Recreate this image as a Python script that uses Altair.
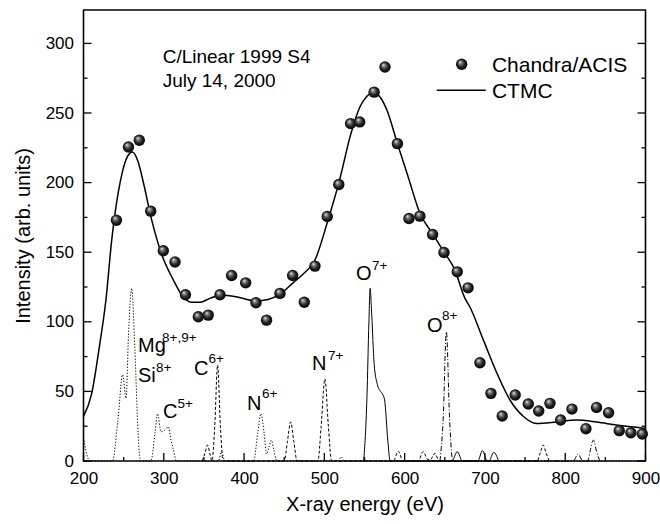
import altair as alt
import pandas as pd

FONT = "Liberation Sans"

# Chandra/ACIS measured points
obs_x = [241, 256, 269.5, 283.7, 299.4, 314, 327, 343, 355.4, 370, 384.5, 402, 414.8, 428, 444.7,
         460.5, 475, 488.3, 503.6, 518, 532.7, 544, 562, 575.5, 591, 605.4, 619, 634.8, 649, 665.5,
         679, 693.8, 707.5, 721.5, 737.7, 754, 767, 781, 794.3, 808.4, 825.8, 839, 854, 867.3, 881.8, 896]
obs_y = [173, 225.6, 230.4, 179.5, 151, 143, 119.4, 103.6, 104.8, 119.4, 133.3, 128, 113.7, 101.2, 120.4,
         133.3, 114, 140, 175.7, 198.6, 242.4, 243.6, 265, 283, 228, 174.2, 175.9, 162.7, 149.8, 135.9,
         124.4, 70.6, 48.6, 32.3, 47.4, 40.9, 35.9, 41.4, 29.4, 37.3, 23.2, 38.5, 34.7, 21.8, 20.3, 19.4]

# CTMC model curve
ctmc_x = [200, 210, 220, 228, 235, 247, 255, 261, 268, 275, 285, 297, 312, 324, 335, 345, 358, 370, 390,
          415, 430, 445, 461, 475, 488, 504, 519, 533, 544, 553, 562, 570, 578, 591, 605, 619, 634, 648,
          662, 675, 681, 698, 715, 731, 748, 764, 789, 814, 839, 864, 900]
ctmc_y = [32, 48, 83, 116, 158, 204, 219, 222, 215, 199, 173, 149, 130, 118, 114, 114, 117, 119, 118,
          115, 116, 120, 128, 135, 144, 172, 202, 235, 254, 262, 265, 261, 252, 228, 203, 178, 164, 151,
          138, 117, 111, 87, 63, 44, 32, 27, 28, 29.4, 28, 25.8, 23.4]

# Individual line spectra (four line styles)
dotted_x = [200, 204, 208, 236, 243, 248.8, 253, 256, 260, 264, 268, 271, 284, 289, 292.4, 296.5, 301,
            305.6, 309, 312, 316, 368, 372, 376, 412, 417, 421, 425, 428, 431, 434, 437, 441, 517, 521, 525, 900]
dotted_y = [17, 5, 0, 0, 30, 62, 45, 90, 124, 80, 20, 0, 0, 20, 34, 21, 22,
            24.6, 15, 8, 0, 0, 6.7, 0, 0, 20, 34, 20, 5, 10, 15, 8, 0, 0, 3, 0, 0]

dashed_x = [348, 351.5, 354.6, 357.5, 360, 363.5, 367, 370.5, 374, 450, 454, 458, 462, 466, 492, 496,
            500.7, 505, 509, 586, 592, 598, 617, 623, 629, 632, 637.7, 643, 765, 769, 772.6, 776, 780]
dashed_y = [0, 6, 11.5, 5, 0, 25, 69, 25, 0, 0, 14, 28, 14, 0, 0, 25,
            59, 25, 0, 0, 7, 0, 0, 6.7, 1, 1, 5.5, 0, 0, 6, 11.5, 6, 0]

solid_x = [549, 553, 555.5, 557, 559, 562, 566, 570, 572.5, 575, 579, 582, 659, 665.5, 672, 691, 697, 703,
           705, 711, 717]
solid_y = [0, 45, 100, 124, 105, 70, 55, 50, 48, 44, 15, 0, 0, 6.7, 0, 0, 7.4, 0,
           0, 6.2, 0]

dashdot_x = [644, 648, 652, 656, 660, 810, 816, 822, 828, 831, 835, 839, 843]
dashdot_y = [0, 30, 92.8, 30, 0, 0, 5, 0, 0, 7, 15, 7, 0]

# Ion labels
ion_text = ["Mg", "Si", "C", "C", "N", "N", "O", "O"]
ion_x = [267.9, 267.9, 337.6, 299, 403.6, 484.6, 539.3, 627.7]
ion_y = [78.5, 56.9, 61.7, 30.9, 36.6, 65.3, 129.9, 92.6]
sup_text = ["8+,9+", "8+", "6+", "5+", "6+", "7+", "7+", "8+"]
sup_x = [297.8, 290.3, 355.7, 317, 422.3, 504.5, 559.3, 646.4]
sup_y = [85.6, 64.1, 70.4, 38, 45.2, 72.5, 137.1, 101.2]

# Annotation and legend
note_text = ["C/Linear 1999 S4", "July 14, 2000"]
note_x = [298.6, 298.6]
note_y = [285.7, 268.5]
legend_text = ["Chandra/ACIS", "CTMC"]
legend_x = [708.7, 708.7]
legend_y = [279.2, 260.6]
legend_sym_x = [671]
legend_sym_y = [285]
legend_line_x = [640, 701]
legend_line_y = [266.3, 266.3]

# Axis ticks
x_major = [200, 300, 400, 500, 600, 700, 800, 900]
x_minor = [250, 350, 450, 550, 650, 750, 850]
y_major = [0, 50, 100, 150, 200, 250, 300]
y_minor = [25, 75, 125, 175, 225, 275]

W, H = 562, 451


def X(field="x"):
    return alt.X(f"{field}:Q", scale=alt.Scale(domain=[200, 900], nice=False, zero=False, padding=0),
                 axis=alt.Axis(title="X-ray energy (eV)", values=x_major, format="d", labelFlush=False))


def Y(field="y"):
    return alt.Y(f"{field}:Q", scale=alt.Scale(domain=[0, 324], nice=False, padding=0),
                 axis=alt.Axis(title="Intensity (arb. units)", values=y_major, format="d", labelFlush=False))


def df(xs, ys, **extra):
    d = pd.DataFrame({"x": xs, "y": ys})
    for k, v in extra.items():
        d[k] = v
    return d


sphere = alt.RadialGradient(
    gradient="radial",
    stops=[alt.GradientStop(color="#ffffff", offset=0),
           alt.GradientStop(color="#8a8a8a", offset=0.22),
           alt.GradientStop(color="#222222", offset=0.6),
           alt.GradientStop(color="#000000", offset=1)],
    x1=0.35, y1=0.3, r1=0, x2=0.5, y2=0.5, r2=0.55)

layers = []
for xs, ys, dash in [(dotted_x, dotted_y, [1.2, 1.8]), (dashed_x, dashed_y, [3, 2]),
                     (solid_x, solid_y, None), (dashdot_x, dashdot_y, [5, 2, 1, 2])]:
    kw = dict(color="black", strokeWidth=1, interpolate="monotone")
    if dash:
        kw["strokeDash"] = dash
    layers.append(alt.Chart(df(xs, ys)).mark_line(**kw).encode(x=X(), y=Y(), order="x:Q"))

layers.append(alt.Chart(df(ctmc_x, ctmc_y)).mark_line(color="black", strokeWidth=1.5, interpolate="monotone")
              .encode(x=X(), y=Y(), order="x:Q"))
layers.append(alt.Chart(df(legend_line_x, legend_line_y)).mark_line(color="black", strokeWidth=1.5)
              .encode(x=X(), y=Y()))

layers.append(alt.Chart(df(obs_x, obs_y)).mark_point(shape="circle", filled=True, size=130, fill=sphere,
                                                     opacity=1, strokeWidth=0)
              .encode(x=X(), y=Y()))
layers.append(alt.Chart(df(legend_sym_x, legend_sym_y)).mark_point(shape="circle", filled=True, size=130,
                                                                   fill=sphere, opacity=1, strokeWidth=0)
              .encode(x=X(), y=Y()))

txt = dict(align="left", baseline="alphabetic", font=FONT, color="black")
layers.append(alt.Chart(df(ion_x, ion_y, t=ion_text)).mark_text(fontSize=20, **txt)
              .encode(x=X(), y=Y(), text="t:N"))
layers.append(alt.Chart(df(sup_x, sup_y, t=sup_text)).mark_text(fontSize=13.5, **txt)
              .encode(x=X(), y=Y(), text="t:N"))
layers.append(alt.Chart(df(note_x, note_y, t=note_text)).mark_text(fontSize=19, **txt)
              .encode(x=X(), y=Y(), text="t:N"))
layers.append(alt.Chart(df(legend_x, legend_y, t=legend_text)).mark_text(fontSize=21, **txt)
              .encode(x=X(), y=Y(), text="t:N"))

# inward ticks
layers.append(alt.Chart(pd.DataFrame({"x": x_major})).mark_rule(color="black", strokeWidth=1.3)
              .encode(x=X(), y=alt.value(H), y2=alt.value(H - 8)))
layers.append(alt.Chart(pd.DataFrame({"x": x_minor})).mark_rule(color="black", strokeWidth=1.3)
              .encode(x=X(), y=alt.value(H), y2=alt.value(H - 4)))
for x0, sgn in [(0, 1), (W, -1)]:
    layers.append(alt.Chart(pd.DataFrame({"y": y_major})).mark_rule(color="black", strokeWidth=1.3)
                  .encode(y=Y(), x=alt.value(x0), x2=alt.value(x0 + sgn * 8)))
    layers.append(alt.Chart(pd.DataFrame({"y": y_minor})).mark_rule(color="black", strokeWidth=1.3)
                  .encode(y=Y(), x=alt.value(x0), x2=alt.value(x0 + sgn * 4)))

chart = alt.layer(*layers).properties(
    width=W, height=H,
    autosize=alt.AutoSizeParams(type="none"),
    padding={"left": 83.5, "top": 10, "right": 14.5, "bottom": 63},
    background="white",
).configure_view(
    stroke="black", strokeWidth=1.6
).configure_axis(
    grid=False, ticks=False, domain=False, labelFlush=False,
    labelFont=FONT, labelFontSize=17, labelColor="black",
    titleFont=FONT, titleFontSize=20, titleFontWeight="normal", titleColor="black",
)
chart = chart.configure_axisX(labelPadding=9, titlePadding=8).configure_axisY(labelPadding=10, titlePadding=12)

chart.save("out.html", embed_options={"renderer": "svg", "actions": False})
